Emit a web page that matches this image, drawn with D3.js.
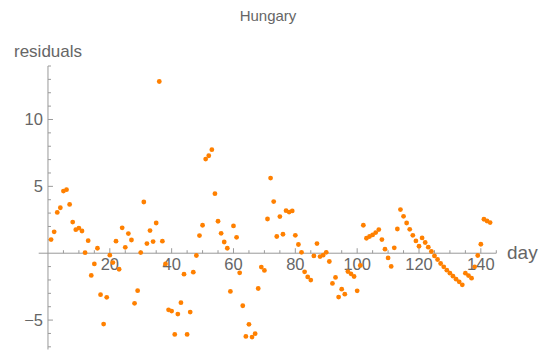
<!DOCTYPE html>
<html>
<head>
<meta charset="utf-8">
<script src="https://cdn.jsdelivr.net/npm/d3@7"></script>
<style>
  html, body { margin: 0; padding: 0; background: #fff; overflow: hidden; }
  svg { display: block; font-family: "Liberation Sans", Arial, sans-serif; }
</style>
</head>
<body>
<svg id="chart" width="546" height="356"></svg>
<script>
const title = "Hungary";
const xLabel = "day";
const yLabel = "residuals";

const days = [1,2,3,4,5,6,7,8,9,10,11,12,13,14,15,16,17,18,19,20,
  21,22,23,24,25,26,27,28,29,30,31,32,33,34,35,36,37,38,39,40,
  41,42,43,44,45,46,47,48,49,50,51,52,53,54,55,56,57,58,59,60,
  61,62,63,64,65,66,67,68,69,70,71,72,73,74,75,76,77,78,79,80,
  81,82,83,84,85,86,87,88,89,90,91,92,93,94,95,96,97,98,99,100,
  101,102,103,104,105,106,107,108,109,110,111,112,113,114,115,116,117,118,119,120,
  121,122,123,124,125,126,127,128,129,130,131,132,133,134,135,136,137,138,139,140,
  141,142,143];

const residuals = [1.02,1.6,3.05,3.4,4.65,4.75,3.65,2.33,1.76,1.88,
  1.66,0.04,0.94,-1.66,-0.8,0.37,-3.1,-5.3,-3.3,-0.15,
  -0.7,0.9,-1.2,1.9,0.44,1.47,0.99,-3.75,-2.8,0.05,
  3.83,0.72,1.69,0.87,2.26,12.84,0.9,-0.8,-4.23,-4.33,
  -6.07,-4.55,-3.7,-1.57,-6.07,-4.4,-1.42,-0.17,1.32,2.09,
  7.04,7.29,7.74,4.45,2.39,1.49,0.84,0.37,-2.86,2.04,
  1.19,-1.47,-3.93,-6.22,-5.32,-6.27,-6.02,-2.64,-1.04,-1.29,
  2.56,5.62,3.86,1.25,2.74,1.42,3.18,3.08,3.16,1.34,
  0.65,0.07,-1.39,-1.77,-2.01,-0.2,0.72,-0.25,-0.15,0.07,
  -0.62,-2.26,-1.81,-3.28,-2.69,-3.06,-1.37,-1.54,-1.74,-2.81,
  -0.92,2.09,1.12,1.25,1.37,1.54,1.77,1.02,0.30,-0.35,
  -0.99,0.40,1.81,3.26,2.76,2.26,1.79,1.34,0.92,0.52,
  1.14,0.80,0.45,0.13,-0.2,-0.47,-0.77,-1.02,-1.27,-1.49,
  -1.72,-1.94,-2.14,-2.36,-1.49,-1.67,-1.87,-1.02,-0.17,0.67,
  2.54,2.41,2.29];

const xMajorTicks = [20,40,60,80,100,120,140];
const xMinorTicks = [5,10,15,25,30,35,45,50,55,65,70,75,85,90,95,105,110,115,125,130,135,145];
const yMajorTicks = [-5,5,10];
const yMinorTicks = [-7,-6,-4,-3,-2,-1,1,2,3,4,6,7,8,9,11,12,13,14];

const axisColor = "#9a9a9a";
const textColor = "#666666";
const pointColor = "#ff8000";

const svg = d3.select("#chart");

const x = d3.scaleLinear().domain([-3, 145]).range([38.7, 496.3]);
const y = d3.scaleLinear().domain([-7.2, 14]).range([349.5, 66]);

const x0 = x(0), y0 = y(0);

// axes lines
svg.append("line")
  .attr("x1", x.range()[0]).attr("x2", x.range()[1])
  .attr("y1", y0).attr("y2", y0)
  .attr("stroke", axisColor).attr("stroke-width", 1);
svg.append("line")
  .attr("x1", x0).attr("x2", x0)
  .attr("y1", y.range()[0]).attr("y2", y.range()[1])
  .attr("stroke", axisColor).attr("stroke-width", 1);

// x ticks (pointing up)
svg.append("g").selectAll("line").data(xMinorTicks).join("line")
  .attr("x1", d => x(d)).attr("x2", d => x(d))
  .attr("y1", y0).attr("y2", y0 - 3)
  .attr("stroke", axisColor).attr("stroke-width", 1);
svg.append("g").selectAll("line").data(xMajorTicks).join("line")
  .attr("x1", d => x(d)).attr("x2", d => x(d))
  .attr("y1", y0).attr("y2", y0 - 5)
  .attr("stroke", axisColor).attr("stroke-width", 1);
svg.append("g").selectAll("text").data(xMajorTicks).join("text")
  .attr("x", d => x(d)).attr("y", y0 + 17)
  .attr("text-anchor", "middle")
  .attr("font-size", 16.5).attr("fill", textColor)
  .text(d => d);

// y ticks (pointing right)
svg.append("g").selectAll("line").data(yMinorTicks).join("line")
  .attr("x1", x0).attr("x2", x0 + 3)
  .attr("y1", d => y(d)).attr("y2", d => y(d))
  .attr("stroke", axisColor).attr("stroke-width", 1);
svg.append("g").selectAll("line").data(yMajorTicks).join("line")
  .attr("x1", x0).attr("x2", x0 + 5)
  .attr("y1", d => y(d)).attr("y2", d => y(d))
  .attr("stroke", axisColor).attr("stroke-width", 1);
svg.append("g").selectAll("text").data(yMajorTicks).join("text")
  .attr("x", x0 - 5).attr("y", d => y(d) + 6)
  .attr("text-anchor", "end")
  .attr("font-size", 16.5).attr("fill", textColor)
  .text(d => d < 0 ? "\u2212" + Math.abs(d) : d);

// points
svg.append("g").selectAll("circle").data(days).join("circle")
  .attr("cx", d => x(d))
  .attr("cy", (d, i) => y(residuals[i]))
  .attr("r", 2.4)
  .attr("fill", pointColor);

// labels
svg.append("text").attr("x", 268).attr("y", 21)
  .attr("text-anchor", "middle").attr("font-size", 15)
  .attr("fill", textColor).text(title);
svg.append("text").attr("x", 14).attr("y", 57)
  .attr("font-size", 17).attr("fill", textColor).text(yLabel);
svg.append("text").attr("x", 507).attr("y", 259)
  .attr("font-size", 19).attr("fill", textColor).text(xLabel);
</script>
</body>
</html>
